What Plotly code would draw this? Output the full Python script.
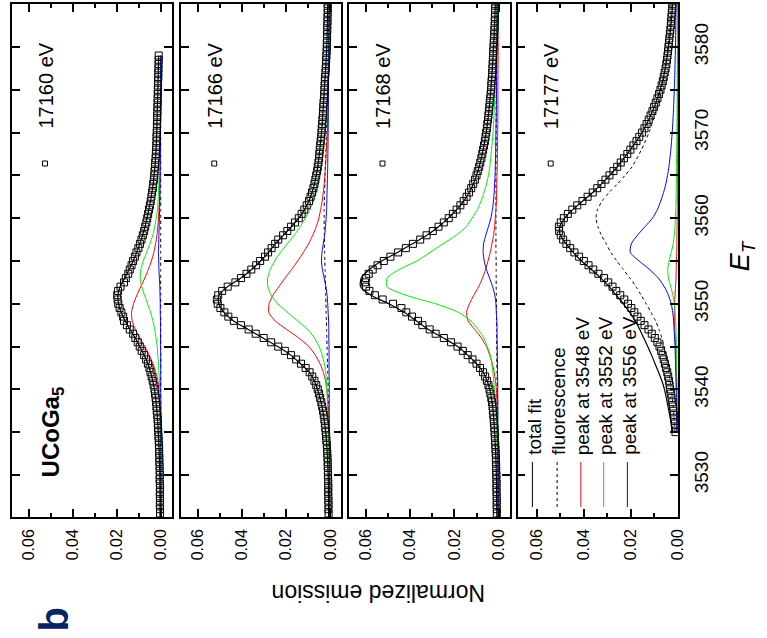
import plotly.graph_objects as go

W, H = 767, 638
FONT = "Liberation Sans, Arial, sans-serif"

# ---------------- data ----------------
ENERGY_LABELS = ["17160 eV", "17166 eV", "17168 eV", "17177 eV"]
LEGEND_NAMES = ["total fit", "fluorescence", "peak at 3548 eV", "peak at 3552 eV", "peak at 3556 eV"]
EMISSION_TICKS = [0.0, 0.02, 0.04, 0.06]
EMISSION_TICKTEXT = ["0.00", "0.02", "0.04", "0.06"]
EMISSION_MINOR = [0.01, 0.03, 0.05]
ET_TICKS = [3530, 3540, 3550, 3560, 3570, 3580]
ET_TICKTEXT = ["3530", "3540", "3550", "3560", "3570", "3580"]
ET_MINOR = [3535, 3545, 3555, 3565, 3575]

DATA_START = [3525.5, 3525.5, 3525.5, 3535.0]
DATA_STEP = 0.5

DATA_17160 = [
    .0005, .0005, .0006, .0005, .0006, .0006, .0005, .0006, .0007, .0006,
    .0007, .0007, .0008, .0008, .0009, .0009, .0010, .0011, .0012, .0013,
    .0014, .0015, .0016, .0018, .0020, .0021, .0023, .0025, .0028, .0030,
    .0034, .0038, .0043, .0048, .0053, .0060, .0068, .0077, .0088, .0097,
    .0106, .0117, .0127, .0142, .0155, .0168, .0172, .0180, .0188, .0194,
    .0197, .0199, .0195, .0184, .0168, .0160, .0149, .0142, .0134, .0127,
    .0119, .0112, .0103, .0096, .0089, .0083, .0077, .0072, .0067, .0063,
    .0059, .0055, .0051, .0047, .0044, .0041, .0038, .0036, .0033, .0031,
    .0030, .0028, .0027, .0025, .0024, .0023, .0022, .0021, .0021, .0020,
    .0019, .0019, .0018, .0018, .0017, .0017, .0016, .0016, .0015, .0015,
    .0014, .0014, .0013, .0013, .0012, .0012, .0011, .0011]

DATA_17166 = [
    .0008, .0009, .0008, .0009, .0009, .0010, .0009, .0010, .0010, .0011,
    .0011, .0012, .0012, .0013, .0014, .0015, .0016, .0018, .0019, .0021,
    .0023, .0025, .0027, .0030, .0033, .0037, .0041, .0046, .0051, .0057,
    .0064, .0072, .0082, .0094, .0112, .0133, .0155, .0178, .0206, .0236,
    .0268, .0302, .0338, .0370, .0405, .0437, .0462, .0480, .0498, .0510,
    .0514, .0508, .0490, .0465, .0430, .0405, .0380, .0358, .0336, .0318,
    .0296, .0282, .0266, .0250, .0236, .0214, .0195, .0178, .0160, .0143,
    .0130, .0118, .0107, .0097, .0090, .0083, .0077, .0072, .0068, .0064,
    .0060, .0057, .0054, .0051, .0050, .0048, .0046, .0044, .0042, .0040,
    .0039, .0037, .0036, .0034, .0033, .0032, .0031, .0029, .0028, .0027,
    .0026, .0025, .0024, .0022, .0021, .0020, .0019, .0018, .0017, .0016,
    .0016, .0015, .0015, .0014, .0014, .0013, .0013, .0012, .0012, .0012]

DATA_17168 = [
    .0008, .0008, .0009, .0008, .0009, .0009, .0010, .0009, .0010, .0010,
    .0011, .0011, .0012, .0012, .0013, .0014, .0015, .0016, .0017, .0018,
    .0019, .0021, .0022, .0024, .0026, .0027, .0030, .0033, .0037, .0041,
    .0046, .0053, .0061, .0071, .0084, .0100, .0118, .0140, .0162, .0186,
    .0215, .0248, .0285, .0312, .0345, .0365, .0392, .0418, .0440, .0478,
    .0525, .0560, .0585, .0600, .0605, .0600, .0588, .0570, .0548, .0520,
    .0490, .0455, .0420, .0388, .0355, .0326, .0298, .0272, .0248, .0226,
    .0207, .0190, .0173, .0158, .0145, .0134, .0124, .0115, .0107, .0100,
    .0094, .0088, .0083, .0078, .0074, .0070, .0066, .0062, .0059, .0056,
    .0053, .0051, .0048, .0046, .0044, .0042, .0040, .0038, .0036, .0034,
    .0033, .0032, .0030, .0029, .0028, .0027, .0026, .0025, .0024, .0023,
    .0022, .0021, .0020, .0019, .0018, .0017, .0017, .0016, .0016, .0015]

DATA_17177 = [
    .0010, .0012, .0013, .0015, .0017, .0019, .0021, .0024, .0027, .0030,
    .0033, .0035, .0038, .0041, .0045, .0050, .0055, .0060, .0065, .0071,
    .0078, .0087, .0098, .0111, .0125, .0142, .0158, .0172, .0185, .0198,
    .0212, .0228, .0245, .0262, .0278, .0296, .0314, .0338, .0360, .0380,
    .0400, .0420, .0440, .0458, .0474, .0488, .0498, .0505, .0506, .0498,
    .0485, .0468, .0449, .0428, .0406, .0384, .0362, .0343, .0325, .0308,
    .0291, .0274, .0258, .0243, .0229, .0215, .0202, .0189, .0176, .0164,
    .0152, .0142, .0133, .0124, .0116, .0108, .0101, .0094, .0087, .0080,
    .0074, .0069, .0064, .0060, .0056, .0052, .0049, .0046, .0044, .0042,
    .0040, .0038, .0036, .0034, .0032, .0030, .0029, .0027, .0026, .0024,
    .0023, .0022]

# energies at which the fitted curves were read
CURVE_E_17160 = [3525, 3530, 3535, 3538, 3540, 3541, 3542, 3543, 3544, 3545, 3546, 3547,
                 3548, 3549, 3550, 3551, 3552, 3553, 3554, 3555, 3556, 3557, 3558, 3559,
                 3560, 3561, 3562, 3563, 3564, 3565, 3566, 3568, 3570, 3573, 3576, 3579]
CURVE_E_FULL = [3525, 3530, 3535, 3538, 3540, 3541, 3542, 3543, 3544, 3545, 3546, 3547,
                3548, 3549, 3550, 3551, 3552, 3553, 3554, 3555, 3556, 3557, 3558, 3559,
                3560, 3561, 3562, 3563, 3564, 3565, 3566, 3568, 3570, 3573, 3576, 3579,
                3582, 3585]
CURVE_E_17177 = [3535, 3538, 3540, 3541, 3542, 3543, 3544, 3545, 3546, 3547,
                 3548, 3549, 3550, 3551, 3552, 3553, 3554, 3555, 3556, 3557, 3558, 3559,
                 3560, 3561, 3562, 3563, 3564, 3565, 3566, 3568, 3570, 3573, 3576, 3579,
                 3582, 3585]

# ---- 17160 eV ----
FIT_17160 = [.0005, .0006, .0013, .0021, .0030, .0038, .0048, .0060, .0077, .0097, .0117, .0141,
             .0163, .0181, .0193, .0196, .0186, .0165, .0145, .0127, .0111, .0097, .0084, .0073,
             .0064, .0056, .0048, .0042, .0036, .0032, .0028, .0023, .0020, .0017, .0014, .0011]
FLUO_17160 = [.0001, .0001, .0002, .0002, .0002, .0002, .0002, .0002, .0002, .0002, .0002, .0002,
              .0002, .0002, .0002, .0002, .0002, .0002, .0002, .0002, .0002, .0002, .0002, .0002,
              .0002, .0002, .0002, .0002, .0002, .0002, .0002, .0002, .0002, .0002, .0002, .0002]
P3548_17160 = [.0002, .0003, .0004, .0006, .0010, .0015, .0024, .0037, .0054, .0074, .0096, .0117,
               .0131, .0134, .0125, .0110, .0092, .0074, .0058, .0044, .0033, .0025, .0019, .0015,
               .0012, .0010, .0008, .0007, .0006, .0005, .0005, .0004, .0003, .0003, .0002, .0002]
P3552_17160 = [.0001, .0002, .0003, .0005, .0007, .0008, .0010, .0012, .0015, .0018, .0023, .0029,
               .0037, .0048, .0061, .0075, .0088, .0095, .0092, .0081, .0066, .0051, .0038, .0029,
               .0022, .0017, .0014, .0012, .0010, .0009, .0008, .0006, .0005, .0004, .0003, .0003]
P3556_17160 = [.0000, .0001, .0001, .0001, .0002, .0002, .0002, .0002, .0002, .0003, .0003, .0003,
               .0003, .0004, .0004, .0005, .0006, .0008, .0010, .0011, .0012, .0011, .0010, .0009,
               .0008, .0007, .0006, .0005, .0005, .0004, .0004, .0003, .0003, .0002, .0002, .0002]

# ---- 17166 eV ----
FIT_17166 = [.0008, .0010, .0021, .0038, .0058, .0073, .0095, .0135, .0180, .0238, .0305, .0372,
             .0438, .0482, .0505, .0505, .0465, .0405, .0357, .0316, .0280, .0250, .0213, .0177,
             .0143, .0117, .0097, .0083, .0072, .0064, .0057, .0048, .0040, .0032, .0025, .0018,
             .0014, .0012]
FLUO_17166 = [.0004, .0005, .0007, .0009, .0010, .0011, .0012, .0013, .0014, .0015, .0016, .0017,
              .0018, .0019, .0020, .0021, .0022, .0023, .0024, .0025, .0026, .0027, .0027, .0028,
              .0028, .0028, .0027, .0026, .0025, .0024, .0023, .0020, .0017, .0014, .0011, .0009,
              .0008, .0007]
P3548_17166 = [.0002, .0003, .0006, .0010, .0016, .0022, .0032, .0047, .0068, .0097, .0143, .0198,
               .0250, .0279, .0277, .0260, .0233, .0205, .0176, .0148, .0122, .0099, .0080, .0064,
               .0052, .0044, .0037, .0032, .0028, .0025, .0022, .0018, .0014, .0011, .0009, .0007,
               .0006, .0005]
P3552_17166 = [.0002, .0004, .0008, .0012, .0016, .0018, .0021, .0027, .0037, .0051, .0072, .0103,
               .0148, .0195, .0238, .0268, .0283, .0284, .0272, .0252, .0226, .0195, .0164, .0137,
               .0114, .0093, .0076, .0064, .0055, .0048, .0042, .0030, .0023, .0015, .0011, .0008,
               .0006, .0005]
P3556_17166 = [.0003, .0003, .0004, .0005, .0005, .0005, .0006, .0006, .0006, .0006, .0007, .0007,
               .0008, .0010, .0012, .0015, .0020, .0028, .0036, .0040, .0038, .0032, .0026, .0022,
               .0019, .0017, .0016, .0015, .0014, .0013, .0012, .0011, .0010, .0009, .0008, .0007,
               .0006, .0005]

# ---- 17168 eV ----
FIT_17168 = [.0008, .0010, .0018, .0027, .0040, .0052, .0070, .0100, .0140, .0185, .0250, .0318,
             .0372, .0428, .0497, .0578, .0625, .0622, .0585, .0530, .0458, .0390, .0325, .0272,
             .0228, .0190, .0158, .0133, .0114, .0100, .0088, .0070, .0056, .0042, .0032, .0025,
             .0019, .0015]
FLUO_17168 = [.0003, .0004, .0005, .0006, .0006, .0007, .0007, .0008, .0008, .0008, .0009, .0009,
              .0009, .0010, .0010, .0010, .0011, .0011, .0011, .0011, .0012, .0012, .0012, .0012,
              .0012, .0012, .0012, .0012, .0012, .0012, .0012, .0011, .0011, .0011, .0010, .0010,
              .0010, .0010]
P3548_17168 = [.0001, .0002, .0004, .0007, .0010, .0014, .0020, .0028, .0040, .0055, .0078, .0108,
               .0138, .0145, .0132, .0112, .0090, .0073, .0059, .0048, .0038, .0030, .0023, .0018,
               .0015, .0012, .0010, .0009, .0008, .0007, .0006, .0005, .0004, .0003, .0003, .0002,
               .0002, .0002]
P3552_17168 = [.0002, .0004, .0008, .0012, .0018, .0022, .0026, .0031, .0038, .0051, .0067, .0093,
               .0125, .0182, .0285, .0420, .0505, .0505, .0450, .0370, .0310, .0252, .0192, .0147,
               .0120, .0096, .0079, .0066, .0055, .0046, .0040, .0032, .0025, .0019, .0015, .0012,
               .0010, .0008]
P3556_17168 = [.0002, .0002, .0003, .0003, .0004, .0004, .0005, .0005, .0006, .0006, .0007, .0007,
               .0008, .0010, .0012, .0017, .0027, .0041, .0055, .0065, .0070, .0068, .0058, .0046,
               .0035, .0028, .0023, .0020, .0018, .0016, .0015, .0013, .0012, .0010, .0009, .0008,
               .0007, .0006]

# ---- 17177 eV ----
FIT_17177 = [.0021, .0042, .0057, .0068, .0082, .0097, .0112, .0128, .0145, .0162,
             .0181, .0205, .0232, .0262, .0292, .0328, .0368, .0410, .0445, .0475, .0500, .0502,
             .0482, .0447, .0405, .0362, .0325, .0290, .0258, .0202, .0152, .0100, .0065, .0045,
             .0031, .0022]
FLUO_17177 = [.0012, .0020, .0028, .0033, .0038, .0044, .0050, .0058, .0068, .0080,
              .0095, .0114, .0135, .0156, .0178, .0204, .0232, .0260, .0285, .0305, .0325, .0340,
              .0348, .0342, .0322, .0293, .0257, .0225, .0195, .0155, .0123, .0088, .0062, .0046,
              .0036, .0028]
P3548_17177 = [.0002, .0003, .0004, .0005, .0006, .0007, .0008, .0009, .0011, .0013,
               .0015, .0015, .0014, .0012, .0010, .0008, .0007, .0006, .0005, .0004, .0004, .0003,
               .0003, .0002, .0002, .0002, .0002, .0002, .0002, .0001, .0001, .0001, .0001, .0001,
               .0001, .0001]
P3552_17177 = [.0002, .0003, .0004, .0004, .0005, .0005, .0006, .0006, .0007, .0008,
               .0009, .0011, .0015, .0021, .0030, .0040, .0043, .0037, .0028, .0020, .0015, .0012,
               .0011, .0009, .0008, .0007, .0007, .0006, .0006, .0005, .0004, .0003, .0003, .0002,
               .0002, .0001]
P3556_17177 = [.0004, .0006, .0007, .0008, .0009, .0010, .0011, .0012, .0014, .0016,
               .0018, .0022, .0028, .0040, .0058, .0083, .0120, .0165, .0202, .0198, .0172, .0140,
               .0108, .0087, .0073, .0061, .0051, .0044, .0038, .0030, .0024, .0018, .0014, .0011,
               .0009, .0008]

PANELS = [
    dict(data=DATA_17160, curve_e=CURVE_E_17160, fit=FIT_17160, fluo=FLUO_17160,
         p1=P3548_17160, p2=P3552_17160, p3=P3556_17160),
    dict(data=DATA_17166, curve_e=CURVE_E_FULL, fit=FIT_17166, fluo=FLUO_17166,
         p1=P3548_17166, p2=P3552_17166, p3=P3556_17166),
    dict(data=DATA_17168, curve_e=CURVE_E_FULL, fit=FIT_17168, fluo=FLUO_17168,
         p1=P3548_17168, p2=P3552_17168, p3=P3556_17168),
    dict(data=DATA_17177, curve_e=CURVE_E_17177, fit=FIT_17177, fluo=FLUO_17177,
         p1=P3548_17177, p2=P3552_17177, p3=P3556_17177),
]

# ---------------- layout geometry (pixels) ----------------
PANEL_X = [(12, 174), (183, 345), (353, 515), (523, 685)]
PANEL_TOP, PANEL_BOTTOM = 4, 517
X_RANGES = [[0.0676, -0.005], [0.0676, -0.005], [0.0676, -0.005], [0.0682, 0.0]]
Y_RANGE = [3525.09, 3585.02]

def fx(px):
    return px / W

def fy(py):
    return 1 - py / H

fig = go.Figure()
SPLINE = dict(shape="spline", smoothing=0.7)

for i, p in enumerate(PANELS):
    xa = "x" if i == 0 else f"x{i+1}"
    ya = "y" if i == 0 else f"y{i+1}"
    e_data = [DATA_START[i] + DATA_STEP * k for k in range(len(p["data"]))]
    ce = p["curve_e"]
    # components (orientation rotated: emission on x, energy on y)
    fig.add_trace(go.Scatter(x=p["fluo"], y=ce, mode="lines", xaxis=xa, yaxis=ya,
                             line=dict(color="black", width=1, dash="3px,3px", **SPLINE)))
    fig.add_trace(go.Scatter(x=p["p1"], y=ce, mode="lines", xaxis=xa, yaxis=ya,
                             line=dict(color="#ff0000", width=1, **SPLINE)))
    fig.add_trace(go.Scatter(x=p["p2"], y=ce, mode="lines", xaxis=xa, yaxis=ya,
                             line=dict(color="#00ee00", width=1, **SPLINE)))
    fig.add_trace(go.Scatter(x=p["p3"], y=ce, mode="lines", xaxis=xa, yaxis=ya,
                             line=dict(color="#0000ff", width=1, **SPLINE)))
    fig.add_trace(go.Scatter(x=p["data"], y=e_data, mode="markers", xaxis=xa, yaxis=ya,
                             marker=dict(symbol="square-open", size=7, color="black",
                                         line=dict(width=1, color="black"))))
    fig.add_trace(go.Scatter(x=p["fit"], y=ce, mode="lines", xaxis=xa, yaxis=ya,
                             line=dict(color="black", width=1.2, **SPLINE)))

layout = dict(
    width=W, height=H, margin=dict(l=0, r=0, t=0, b=0),
    paper_bgcolor="white", plot_bgcolor="white", showlegend=False,
    font=dict(family=FONT, color="black"),
)

for i in range(4):
    sx = "" if i == 0 else str(i + 1)
    l, r = PANEL_X[i]
    layout["xaxis" + sx] = dict(
        domain=[fx(l), fx(r)], range=X_RANGES[i], anchor="y" + sx,
        showline=True, linecolor="black", linewidth=1.5, mirror="ticks",
        ticks="inside", ticklen=8, tickwidth=1.5, tickcolor="black",
        tickmode="array", tickvals=EMISSION_TICKS, ticktext=EMISSION_TICKTEXT,
        tickangle=-90, tickfont=dict(size=16, family=FONT, color="black"),
        ticklabelstandoff=4,
        minor=dict(tickmode="array", tickvals=EMISSION_MINOR, ticks="inside", ticklen=4,
                   tickwidth=1.5, tickcolor="black", showgrid=False),
        showgrid=False, zeroline=False, fixedrange=True,
    )
    layout["yaxis" + sx] = dict(
        domain=[fy(PANEL_BOTTOM), fy(PANEL_TOP)], range=Y_RANGE, anchor="x" + sx,
        side="right" if i == 3 else "left",
        showline=True, linecolor="black", linewidth=1.5, mirror="ticks",
        ticks="inside", ticklen=8, tickwidth=1.5, tickcolor="black",
        tickmode="array", tickvals=ET_TICKS, ticktext=ET_TICKTEXT,
        showticklabels=(i == 3), tickangle=-90,
        tickfont=dict(size=19, family=FONT, color="black"), ticklabelstandoff=6,
        minor=dict(tickmode="array", tickvals=ET_MINOR, ticks="inside", ticklen=8,
                   tickwidth=1.5, tickcolor="black", showgrid=False),
        showgrid=False, zeroline=False, fixedrange=True,
    )

annotations = []
shapes = []

# energy labels with small square symbol
for i, lab in enumerate(ENERGY_LABELS):
    l, r = PANEL_X[i]
    cx = l + 34
    annotations.append(dict(text=lab, x=fx(cx), y=fy(86), xref="paper", yref="paper",
                            showarrow=False, textangle=-90, xanchor="center", yanchor="middle",
                            font=dict(size=20, family=FONT, color="black")))
    shapes.append(dict(type="rect", xref="paper", yref="paper",
                       x0=fx(cx - 3), x1=fx(cx + 2), y0=fy(166), y1=fy(161),
                       line=dict(color="black", width=1), fillcolor="rgba(0,0,0,0)"))

# compound name
annotations.append(dict(text="<b>UCoGa<sub>5</sub></b>", x=fx(53), y=fy(432), xref="paper",
                        yref="paper", showarrow=False, textangle=-90, xanchor="center",
                        yanchor="middle", font=dict(size=24, family=FONT, color="black")))

# panel letter
annotations.append(dict(text="<b>b</b>", x=fx(55), y=fy(619), xref="paper", yref="paper",
                        showarrow=False, textangle=-90, xanchor="center", yanchor="middle",
                        font=dict(size=40, family=FONT, color="#0a2463")))

# axis titles
annotations.append(dict(text="Normalized emission", x=fx(383), y=fy(593), xref="paper",
                        yref="paper", showarrow=False, textangle=180, xanchor="center",
                        yanchor="middle", font=dict(size=23, family=FONT, color="black")))
annotations.append(dict(text="<i>E<sub>T</sub></i>", x=fx(750), y=fy(256), xref="paper",
                        yref="paper", showarrow=False, textangle=-90, xanchor="center",
                        yanchor="middle", font=dict(size=27, family=FONT, color="black")))

# legend (rotated) in last panel
LEG_X = [538, 563, 587, 610, 634]
LEG_STYLE = [("black", "solid"), ("black", "3px,3px"), ("#ff0000", "solid"),
             ("#00ee00", "solid"), ("#0000ff", "solid")]
for name, lx, (col, dash) in zip(LEGEND_NAMES, LEG_X, LEG_STYLE):
    shapes.append(dict(type="line", xref="paper", yref="paper", x0=fx(lx), x1=fx(lx),
                       y0=fy(462), y1=fy(507), line=dict(color=col, width=1, dash=dash)))
    annotations.append(dict(text=name, x=fx(lx + 2), y=fy(456), xref="paper", yref="paper",
                            showarrow=False, textangle=-90, xanchor="center", yanchor="bottom",
                            borderpad=0, font=dict(size=19, family=FONT, color="black")))

layout["annotations"] = annotations
layout["shapes"] = shapes
fig.update_layout(**layout)

fig.write_html("out.html")
